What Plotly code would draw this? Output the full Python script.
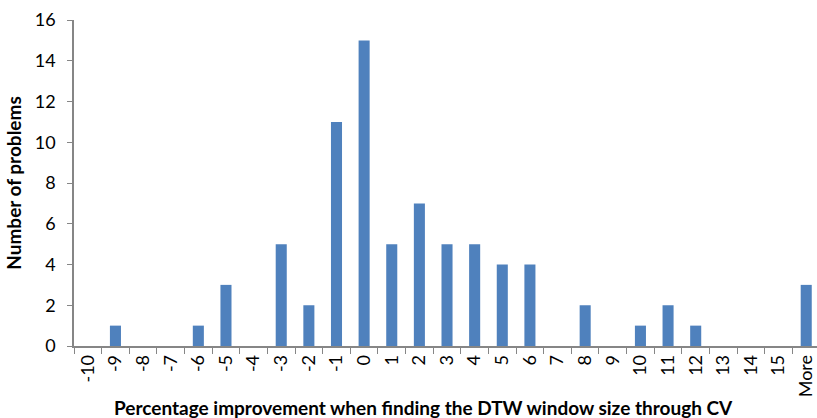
import plotly.graph_objects as go

categories = ["-10", "-9", "-8", "-7", "-6", "-5", "-4", "-3", "-2", "-1", "0", "1", "2", "3",
              "4", "5", "6", "7", "8", "9", "10", "11", "12", "13", "14", "15", "More"]
counts = [0, 1, 0, 0, 1, 3, 0, 5, 2, 11, 15, 5, 7, 5, 5, 4, 4, 0, 2, 0, 1, 2, 1, 0, 0, 0, 3]
y_ticks = [0, 2, 4, 6, 8, 10, 12, 14, 16]
x_title = "Percentage improvement when finding the DTW window size through CV"
y_title = "Number of problems"

FONT = "Lato, 'Open Sans', sans-serif"

fig = go.Figure(go.Bar(
    x=categories, y=counts,
    marker=dict(color="#4F81BD", line=dict(width=0)),
))

fig.update_layout(
    width=817, height=418,
    margin=dict(l=74, r=0, t=20, b=72, autoexpand=False),
    plot_bgcolor="white", paper_bgcolor="white",
    bargap=0.6,
    showlegend=False,
    font=dict(family=FONT, size=16, color="black"),
    annotations=[dict(
        text="<b>" + x_title + "</b>",
        xref="paper", yref="paper", x=0.47, y=-0.19,
        xanchor="center", yanchor="middle", showarrow=False,
        font=dict(family=FONT, size=19, color="black"),
    )],
)

fig.update_xaxes(
    type="category",
    range=[-0.5, 26.39],
    automargin=False,
    tickangle=-90,
    tickson="boundaries",
    ticks="outside", ticklen=6, tickcolor="#868686",
    showline=True, linecolor="#868686", linewidth=1.5,
    showgrid=False, zeroline=False,
    tickfont=dict(family=FONT, size=18),
)

fig.update_yaxes(
    range=[0, 16],
    automargin=False,
    tickvals=y_ticks,
    ticks="outside", ticklen=5, tickcolor="#868686",
    ticklabelstandoff=8,
    showline=True, linecolor="#868686", linewidth=1.5,
    showgrid=False, zeroline=False,
    tickfont=dict(family=FONT, size=18),
    title=dict(text="<b>" + y_title + "</b>", font=dict(family=FONT, size=19), standoff=8),
)

fig.write_html("out.html", config={"displayModeBar": False},
               post_script="document.body.style.margin='0';")
